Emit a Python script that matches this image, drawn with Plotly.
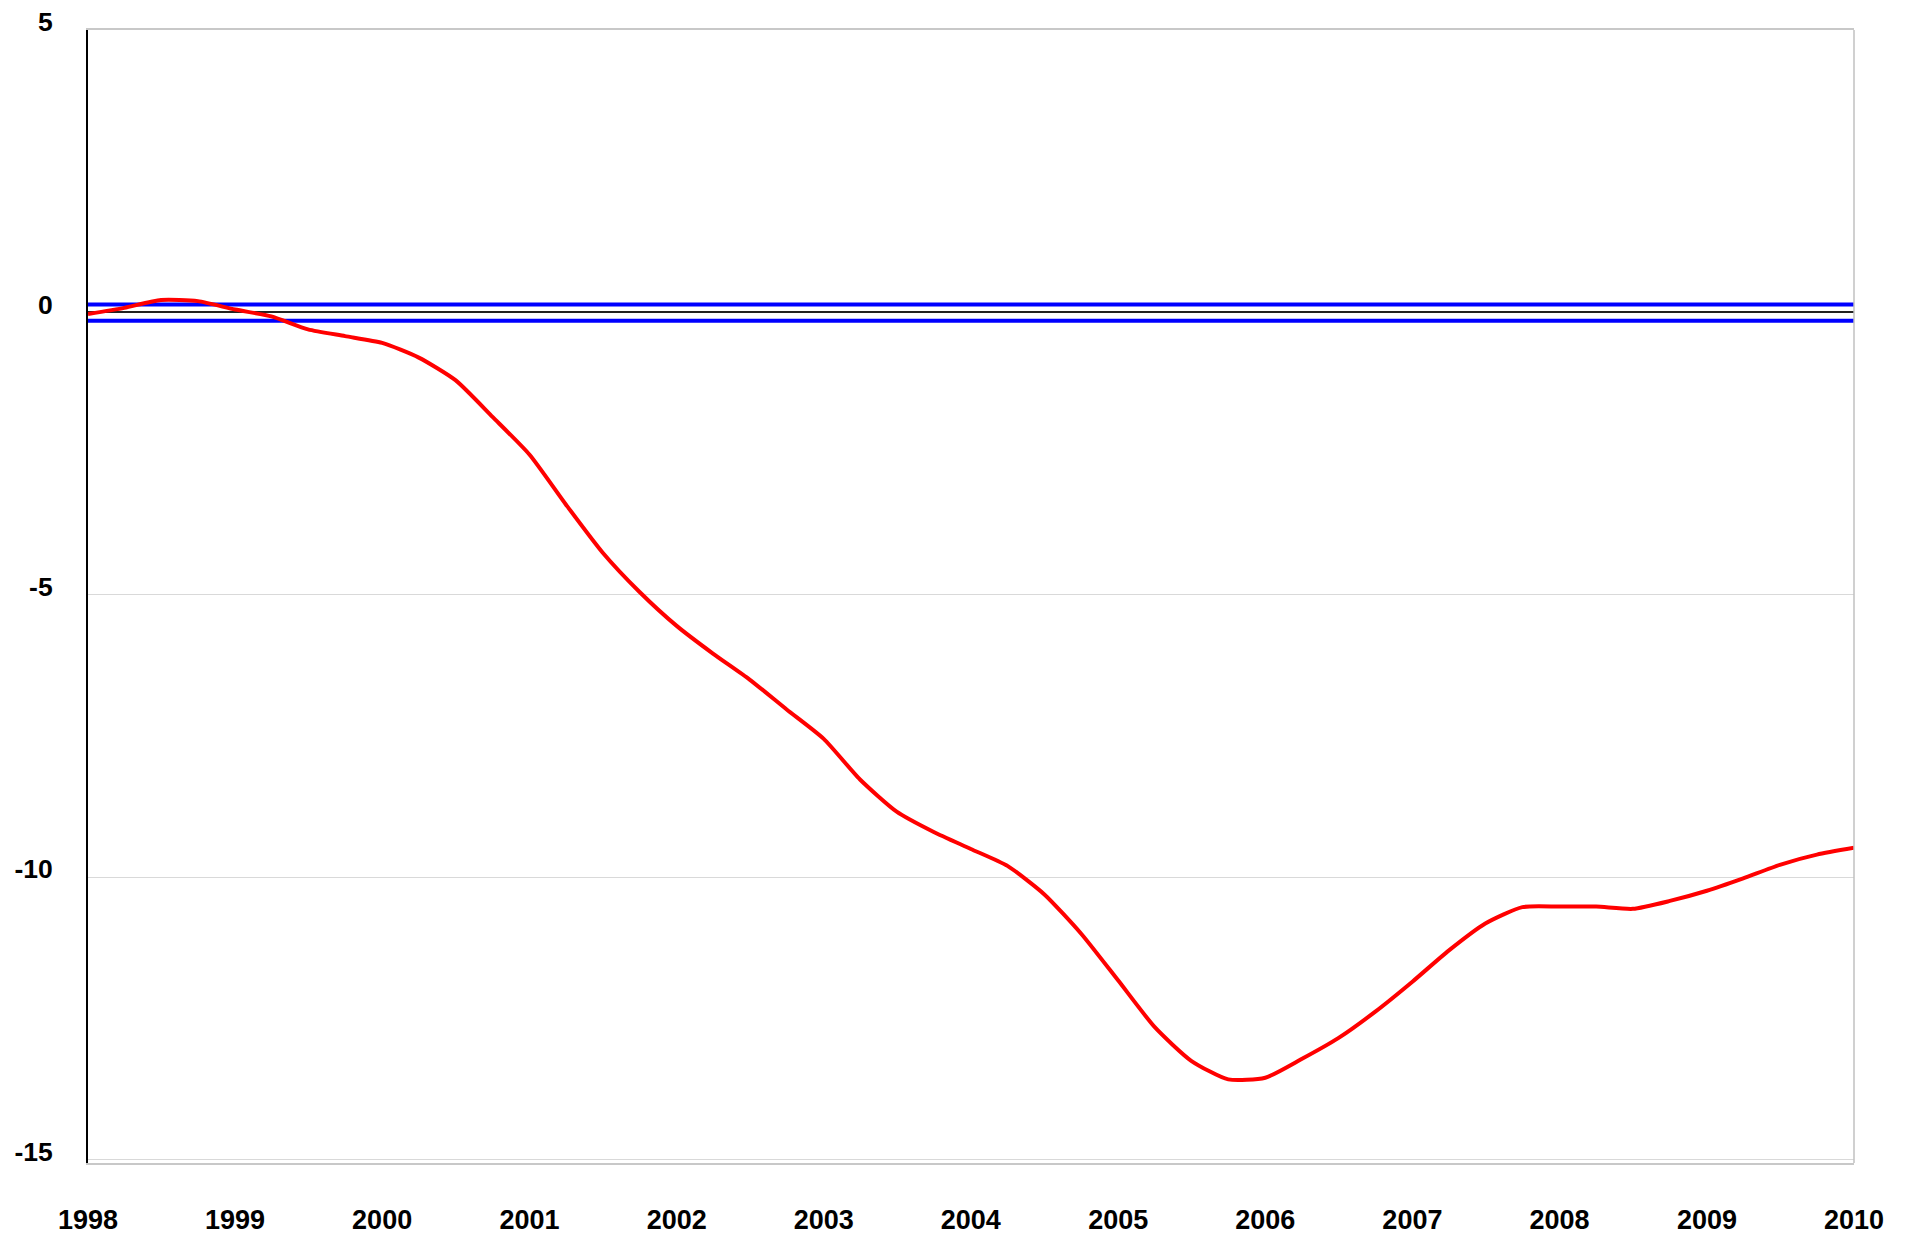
import plotly.graph_objects as go

# Quarterly readings of the red series
dates = [
    "1998-01-01", "1998-04-01", "1998-07-01", "1998-10-01",
    "1999-01-01", "1999-04-01", "1999-07-01", "1999-10-01",
    "2000-01-01", "2000-04-01", "2000-07-01", "2000-10-01",
    "2001-01-01", "2001-04-01", "2001-07-01", "2001-10-01",
    "2002-01-01", "2002-04-01", "2002-07-01", "2002-10-01",
    "2003-01-01", "2003-04-01", "2003-07-01", "2003-10-01",
    "2004-01-01", "2004-04-01", "2004-07-01", "2004-10-01",
    "2005-01-01", "2005-04-01", "2005-07-01", "2005-10-01",
    "2006-01-01", "2006-04-01", "2006-07-01", "2006-10-01",
    "2007-01-01", "2007-04-01", "2007-07-01", "2007-10-01",
    "2008-01-01", "2008-04-01", "2008-07-01", "2008-10-01",
    "2009-01-01", "2009-04-01", "2009-07-01", "2009-10-01",
    "2010-01-01",
]
values = [
    -0.03, 0.08, 0.22, 0.20,
    0.05, -0.07, -0.30, -0.42,
    -0.54, -0.80, -1.20, -1.85,
    -2.52, -3.40, -4.25, -4.95,
    -5.55, -6.04, -6.50, -7.03,
    -7.55, -8.27, -8.84, -9.20,
    -9.50, -9.80, -10.30, -11.00,
    -11.83, -12.65, -13.25, -13.58,
    -13.55, -13.22, -12.85, -12.38,
    -11.85, -11.30, -10.82, -10.53,
    -10.52, -10.52, -10.56, -10.42,
    -10.24, -10.02, -9.78, -9.60,
    -9.48,
]

band_dates = ["1998-01-01", "2010-01-01"]
band_upper = [0.14, 0.14]
band_lower = [-0.15, -0.15]

year_ticks = [f"{y}-01-01" for y in range(1998, 2011)]
year_labels = [str(y) for y in range(1998, 2011)]
y_ticks = [5, 0, -5, -10, -15]

fig = go.Figure()
fig.add_trace(go.Scatter(x=band_dates, y=band_upper, mode="lines",
                         line=dict(color="#0000ff", width=4), hoverinfo="skip"))
fig.add_trace(go.Scatter(x=band_dates, y=band_lower, mode="lines",
                         line=dict(color="#0000ff", width=4), hoverinfo="skip"))
fig.add_trace(go.Scatter(x=dates, y=values, mode="lines",
                         line=dict(color="#ff0000", width=4, shape="spline", smoothing=0.6)))

# page body adds an 8px offset, so the figure is sized/margined to compensate
fig.update_layout(
    width=1900, height=1227,
    margin=dict(l=80, r=54, t=22, b=72, autoexpand=False),
    paper_bgcolor="white", plot_bgcolor="white",
    showlegend=False,
    font=dict(family="Liberation Sans, Arial, sans-serif", color="black"),
    shapes=[dict(type="line", xref="paper", yref="paper", x0=1, x1=1, y0=0, y1=1,
                 line=dict(color="#c0c0c0", width=1.5))],
)
fig.update_xaxes(
    type="date", range=["1998-01-01", "2010-01-01"],
    tickvals=year_ticks, ticktext=year_labels,
    tickfont=dict(size=27, weight="bold"),
    showgrid=False, zeroline=False,
    showline=True, linecolor="#c8c8c8", linewidth=1.5, mirror=True,
    ticks="", ticklabelstandoff=32, automargin=False,
    ticklabeloverflow="allow",
)
fig.update_yaxes(
    range=[-15.06, 5.0],
    tickvals=y_ticks, ticktext=[str(v) for v in y_ticks],
    tickfont=dict(size=26.5, weight="bold"),
    showgrid=True, gridcolor="#d9d9d9", gridwidth=1,
    zeroline=True, zerolinecolor="#222222", zerolinewidth=2,
    showline=True, linecolor="black", linewidth=2, mirror=False,
    ticks="", ticklabelstandoff=28, ticklabelshift=-8, automargin=False,
    ticklabeloverflow="allow",
)

fig.write_html("out.html")
